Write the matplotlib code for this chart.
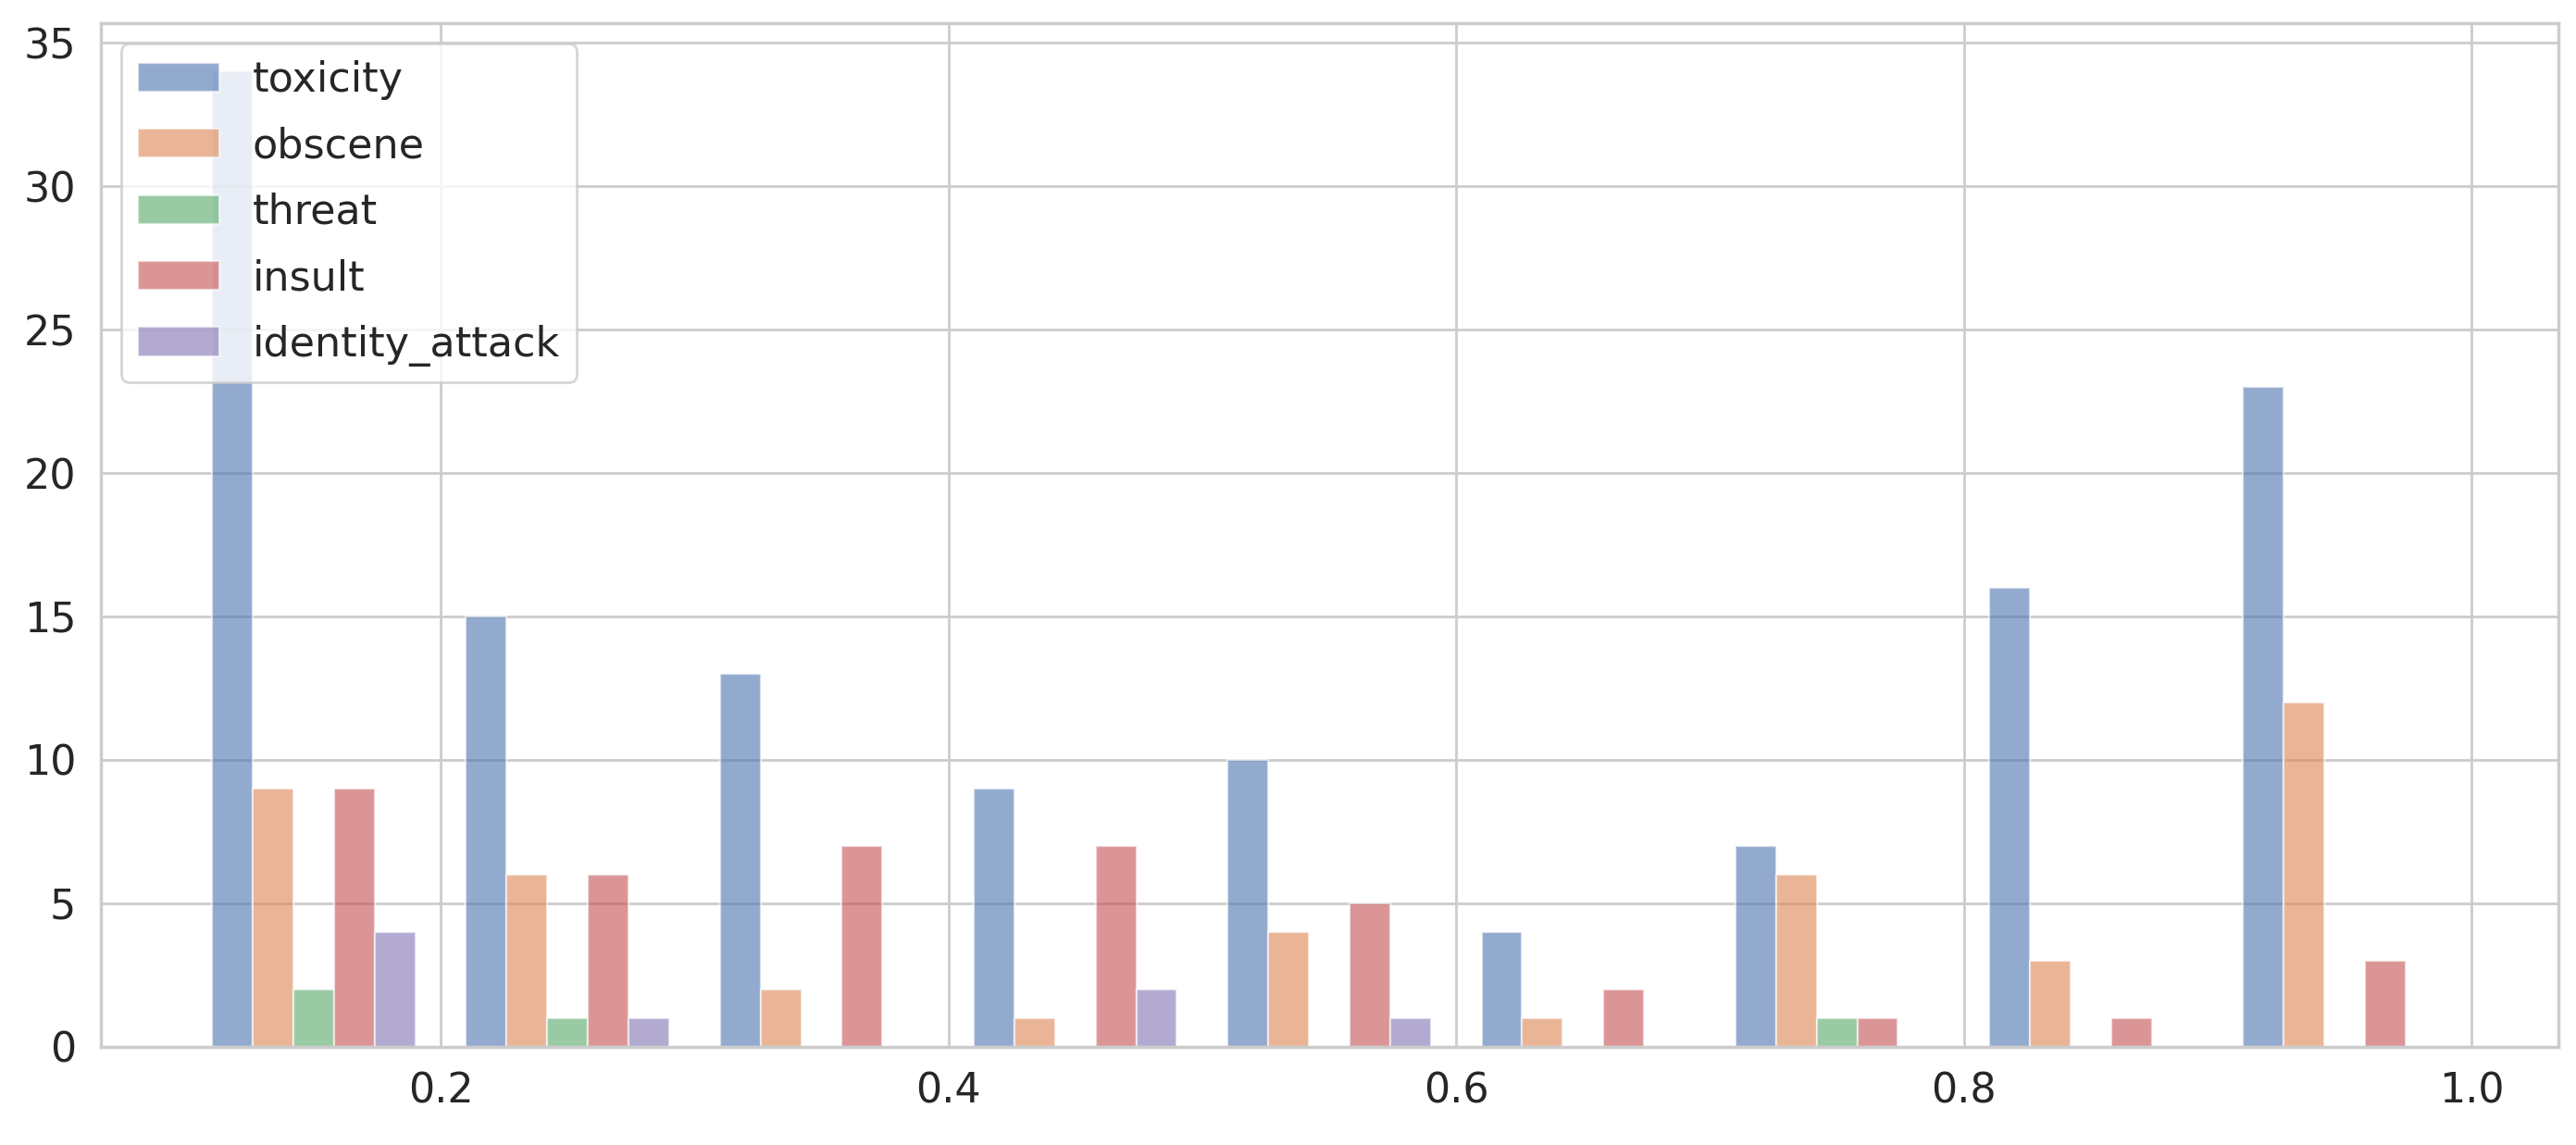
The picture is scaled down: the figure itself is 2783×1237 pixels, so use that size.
import numpy as np
import matplotlib
matplotlib.use("Agg")
import matplotlib.pyplot as plt
import seaborn as sns

# histogram counts, bins of width 0.1 from 0.1 to 1.0
bin_left = [0.1, 0.2, 0.3, 0.4, 0.5, 0.6, 0.7, 0.8, 0.9]
labels = ["toxicity", "obscene", "threat", "insult", "identity_attack"]
toxicity = [34, 15, 13, 9, 10, 4, 7, 16, 23]
obscene = [9, 6, 2, 1, 4, 1, 6, 3, 12]
threat = [2, 1, 0, 0, 0, 0, 1, 0, 0]
insult = [9, 6, 7, 7, 5, 2, 1, 1, 3]
identity_attack = [4, 1, 0, 2, 1, 0, 0, 0, 0]
series = [toxicity, obscene, threat, insult, identity_attack]

sns.set_theme(style="whitegrid")
plt.rcParams['font.family'] = ['DejaVu Sans']
colors = sns.color_palette("deep", len(labels))

fig, ax = plt.subplots(figsize=(13.915, 6.185), dpi=200)
fig.subplots_adjust(left=0.039, right=0.993, top=0.980, bottom=0.086)

binw = 0.1
shrink = 0.8
barw = binw * shrink / len(labels)
edges = np.array(bin_left)
for i, (lab, vals) in enumerate(zip(labels, series)):
    x = edges + binw * (1 - shrink) / 2 + i * barw
    ax.bar(x, vals, width=barw, align='edge', color=colors[i], alpha=0.6,
           edgecolor='white', linewidth=0.8, label=lab)

ax.tick_params(labelsize=16)
ax.legend(loc='upper left', fontsize=16, labelspacing=0.64)

plt.savefig('out.png', dpi=200)
